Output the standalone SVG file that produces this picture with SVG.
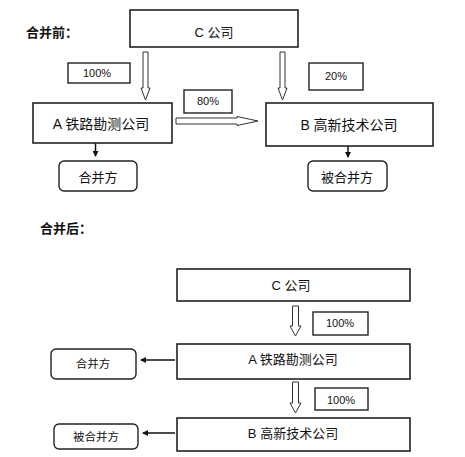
<svg xmlns="http://www.w3.org/2000/svg" width="465" height="457" viewBox="0 0 465 457">
<defs>
<style>
.box{fill:#fff;stroke:#222;stroke-width:1.6}
.rbox{fill:#fff;stroke:#222;stroke-width:1.4}
.pbox{fill:#fff;stroke:#222;stroke-width:1.4}
.t{font-family:"Liberation Sans","Noto Sans CJK SC",sans-serif;font-size:13px;fill:#111;text-anchor:middle;dominant-baseline:central}
.t14{font-size:14px}
.t11{font-size:11.5px}
.p{font-family:"Liberation Sans","Noto Sans CJK SC",sans-serif;font-size:11px;fill:#111;text-anchor:middle;dominant-baseline:central}
.h{font-family:"Noto Sans CJK SC",sans-serif;font-size:13px;font-weight:bold;fill:#111;dominant-baseline:central}
.hol{fill:#fff;stroke:#333;stroke-width:1}
.ln{stroke:#111;stroke-width:1.5;fill:none}
</style>
<marker id="ah" markerWidth="6" markerHeight="6" refX="5" refY="3" orient="auto" markerUnits="userSpaceOnUse">
<path d="M0,0 L6,3 L0,6 Z" fill="#111"/>
</marker>
</defs>
<rect width="465" height="457" fill="#fff"/>
<text class="h" x="26" y="31">合并前：</text>
<text class="h" x="40" y="227">合并后：</text>

<g id="connectors">
<path class="hol" d="M143,52 H148 V88 H150 L145.5,100 L141,88 H143 Z"/>
<path class="hol" d="M280,52 H285 V88 H287 L282.5,100 L278,88 H280 Z"/>
<path class="hol" d="M176,118 H237 V116.5 L258,121 L237,125.5 V124 H176 Z"/>
<line class="ln" x1="95.5" y1="143" x2="95.5" y2="156" marker-end="url(#ah)"/>
<line class="ln" x1="348" y1="146" x2="348" y2="157" marker-end="url(#ah)"/>
<path class="hol" d="M292.5,306 H298.5 V326 H301 L295.5,336 L290,326 H292.5 Z"/>
<path class="hol" d="M292.5,382 H298.5 V403 H301 L295.5,413 L290,403 H292.5 Z"/>
<line class="ln" x1="175" y1="360" x2="141" y2="360" marker-end="url(#ah)"/>
<line class="ln" x1="175" y1="433" x2="143" y2="433" marker-end="url(#ah)"/>
</g>

<g id="c1"><rect class="box" x="130" y="10" width="168" height="37"/><text class="t" x="214" y="32">C 公司</text></g>
<g id="p100a"><rect class="pbox" x="68" y="63" width="62" height="20"/><text class="p" x="97" y="73">100%</text></g>
<g id="p20"><rect class="pbox" x="309" y="63" width="54" height="27"/><text class="p" x="336" y="76">20%</text></g>
<g id="p80"><rect class="pbox" x="184" y="90" width="48" height="23"/><text class="p" x="208" y="101">80%</text></g>
<g id="a1"><rect class="box" x="33" y="103" width="139" height="40"/><text class="t t14" x="101" y="124">A 铁路勘测公司</text></g>
<g id="b1"><rect class="box" x="266" y="103" width="167" height="43"/><text class="t t14" x="349" y="125">B 高新技术公司</text></g>
<g id="m1"><rect class="rbox" x="59" y="161" width="78" height="30" rx="5"/><text class="t" x="98" y="177">合并方</text></g>
<g id="bm1"><rect class="rbox" x="308" y="161" width="79" height="30" rx="5"/><text class="t" x="347" y="177">被合并方</text></g>

<g id="c2"><rect class="box" x="177" y="269" width="233" height="32"/><text class="t" x="291" y="285">C 公司</text></g>
<g id="p100b"><rect class="pbox" x="313" y="312" width="55" height="23"/><text class="p" x="340" y="323">100%</text></g>
<g id="a2"><rect class="box" x="177" y="344" width="233" height="35"/><text class="t" x="293" y="359">A 铁路勘测公司</text></g>
<g id="m2"><rect class="rbox" x="51" y="349" width="85" height="30" rx="5"/><text class="t t11" x="93" y="364">合并方</text></g>
<g id="p100c"><rect class="pbox" x="315" y="388" width="53" height="22"/><text class="p" x="341" y="400">100%</text></g>
<g id="b2"><rect class="box" x="177" y="418" width="233" height="33"/><text class="t" x="293" y="433">B 高新技术公司</text></g>
<g id="bm2"><rect class="rbox" x="54" y="424" width="84" height="25" rx="5"/><text class="t t11" x="96" y="437">被合并方</text></g>
</svg>
